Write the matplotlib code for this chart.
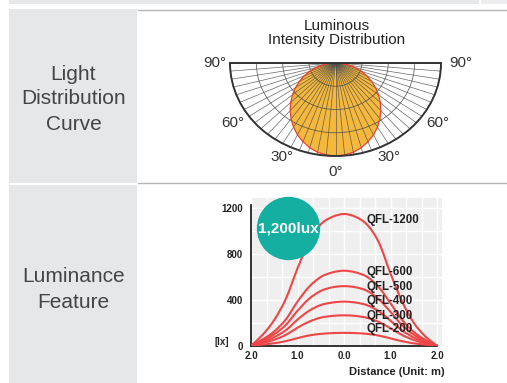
import numpy as np
import matplotlib
matplotlib.use("Agg")
import matplotlib.pyplot as plt
from matplotlib.patches import Rectangle, Polygon, PathPatch, Arc
from matplotlib.path import Path

plt.rcParams['font.family'] = ['Liberation Sans', 'DejaVu Sans']

W, H = 507, 383

# --- light distribution (relative intensity vs angle from nadir, one half) ---
beam_angles = [0, 5, 10, 15, 20, 25, 30, 35, 40, 45, 50, 55, 60, 65, 70, 75, 80, 85, 90]
beam_rel = [1.0, 0.993, 0.975, 0.944, 0.90, 0.853, 0.796, 0.734, 0.669, 0.601,
            0.533, 0.464, 0.395, 0.328, 0.261, 0.195, 0.129, 0.065, 0.0]
grid_rings = [0.25, 0.5, 0.75]
spoke_angles = list(range(-90, 91, 5))
deg_labels = ['90°', '90°', '60°', '60°', '30°', '30°', '0°']

# --- luminance curves ---
distance = [-2.0, -1.75, -1.5, -1.25, -1.0, -0.75, -0.5, -0.25, 0.0,
            0.25, 0.5, 0.75, 1.0, 1.25, 1.5, 1.75, 2.0]
qfl1200 = [0, 95, 225, 410, 675, 910, 1060, 1125, 1150, 1125, 1055, 900, 630, 385, 200, 80, 0]
qfl600 = [0, 55, 125, 230, 385, 515, 600, 640, 655, 640, 600, 510, 370, 225, 120, 50, 0]
qfl500 = [0, 45, 100, 182, 305, 410, 478, 510, 520, 510, 478, 405, 295, 178, 97, 40, 0]
qfl400 = [0, 33, 75, 135, 228, 305, 355, 377, 385, 377, 353, 300, 218, 132, 72, 30, 0]
qfl300 = [0, 23, 52, 95, 157, 210, 245, 260, 265, 260, 243, 207, 152, 93, 50, 21, 0]
qfl200 = [0, 10, 22, 40, 66, 90, 103, 110, 112, 110, 103, 88, 64, 39, 21, 9, 0]
series = [qfl1200, qfl600, qfl500, qfl400, qfl300, qfl200]
series_names = ['QFL-1200', 'QFL-600', 'QFL-500', 'QFL-400', 'QFL-300', 'QFL-200']
name_y = [1099, 647, 516, 393, 262, 143]


def px(x0, y0, x1, y1):
    return [x0 / W, 1 - y1 / H, (x1 - x0) / W, (y1 - y0) / H]


def smooth(xs, ys):
    # Catmull-Rom through the read points, drawn as cubic bezier
    p = np.column_stack([xs, ys]).astype(float)
    verts, codes = [p[0]], [Path.MOVETO]
    for i in range(len(p) - 1):
        p0 = p[i - 1] if i > 0 else p[i]
        p3 = p[i + 2] if i + 2 < len(p) else p[i + 1]
        verts += [p[i] + (p[i + 1] - p0) / 6, p[i + 1] - (p3 - p[i]) / 6, p[i + 1]]
        codes += [Path.CURVE4] * 3
    return Path(verts, codes)


fig = plt.figure(figsize=(W / 100, H / 100), dpi=100)

# background table
bg = fig.add_axes([0, 0, 1, 1])
bg.set_xlim(0, W)
bg.set_ylim(H, 0)
bg.axis('off')
cell = '#E6E7E9'
bg.add_patch(Rectangle((9, 0), 470, 4, color=cell, lw=0))
bg.add_patch(Rectangle((481, 0), 26, 4, color='#EDEDEF', lw=0))
bg.add_patch(Rectangle((9, 9), 128, 174, color=cell, lw=0))
bg.add_patch(Rectangle((9, 185), 128, 198, color=cell, lw=0))
bg.plot([138, 507], [10, 10], color='#B5B5B5', lw=1)
bg.plot([138, 507], [183, 183], color='#B5B5B5', lw=1)
bg.text(73.5, 99, 'Light\nDistribution\nCurve', ha='center', va='center',
        fontsize=15, color='#444444', linespacing=1.4)
bg.text(73.5, 289.5, 'Luminance\nFeature', ha='center', va='center',
        fontsize=15, color='#444444', linespacing=1.4)

# light distribution curve
ax = fig.add_axes(px(230, 63, 441, 156))
ax.set_xlim(-1, 1)
ax.set_ylim(-1, 0)
ax.axis('off')
a = np.radians(np.array(beam_angles))
r = np.array(beam_rel)
xs = np.concatenate([-(r * np.sin(a))[::-1], (r * np.sin(a))[1:]])
ys = np.concatenate([-(r * np.cos(a))[::-1], -(r * np.cos(a))[1:]])
ax.add_patch(Polygon(np.column_stack([xs, ys]), closed=True, fc='#F4B83C', ec='none', zorder=1))
for s in spoke_angles:
    t = np.radians(s)
    ax.plot([0, np.sin(t)], [0, -np.cos(t)], color='#4d4d4d', lw=0.5, alpha=0.85, zorder=2)
for rr in grid_rings:
    ax.add_patch(Arc((0, 0), 2 * rr, 2 * rr, theta1=180, theta2=360,
                     color='#4d4d4d', lw=0.6, alpha=0.85, zorder=2))
ax.add_patch(Polygon(np.column_stack([xs, ys]), closed=True, fc='none',
                     ec='#E8402E', lw=0.9, zorder=3))
ax.add_patch(Arc((0, 0), 2, 2, theta1=180, theta2=360, color='#333333', lw=1.4,
                 zorder=4, clip_on=False))
ax.plot([-1, 1], [0, 0], color='#333333', lw=1.4, zorder=4, clip_on=False)
lab_pos = [(-1.142, 0.0), (1.19, 0.0), (-0.97, -0.645), (0.97, -0.645),
           (-0.507, -1.01), (0.507, -1.01), (0.0, -1.17)]
for lab, (lx, ly) in zip(deg_labels, lab_pos):
    ax.text(lx, ly, lab, ha='center', va='center', fontsize=11, color='#333333')
ax.text(0.01, 0.323, 'Luminous\nIntensity Distribution', ha='center', va='center',
        fontsize=11, color='#222222', linespacing=1.05)

# luminance feature chart
ax3 = fig.add_axes(px(251, 198, 441.7, 345.7))
ax3.set_facecolor('#EFEFEF')
ax3.set_xlim(-2, 2.1)
ax3.set_ylim(0, 1290)
for sp in ['top', 'right']:
    ax3.spines[sp].set_visible(False)
ax3.spines['left'].set_bounds(0, 1230)
ax3.spines['bottom'].set_bounds(-2, 2)
for sp in ['left', 'bottom']:
    ax3.spines[sp].set_linewidth(1.2)
    ax3.spines[sp].set_color('#111111')
ax3.set_xticks([-2, -1, 0, 1, 2])
ax3.set_xticklabels(['2.0', '1.0', '0.0', '1.0', '2.0'])
ax3.set_xticks([-5 / 3, -4 / 3, -2 / 3, -1 / 3, 1 / 3, 2 / 3, 4 / 3, 5 / 3], minor=True)
ax3.set_yticks([0, 400, 800, 1200])
ax3.set_yticks([200, 600, 1000], minor=True)
ax3.tick_params(which='both', length=0)
ax3.tick_params(axis='y', pad=5.5)
ax3.tick_params(axis='x', pad=3.5)
for t in ax3.get_xticklabels() + ax3.get_yticklabels():
    t.set_fontsize(7)
    t.set_fontweight('bold')
    t.set_color('#222222')
ax3.grid(which='both', color='white', lw=1)
ax3.set_axisbelow(True)

for vals in series:
    ax3.add_patch(PathPatch(smooth(distance, vals), fill=False, ec='#EE4646',
                            lw=1.5, zorder=3, capstyle='round'))
for name, ny in zip(series_names, name_y):
    ax3.text(0.49, ny, name, ha='left', va='center', fontsize=8.3,
             fontweight='bold', color='#222222', zorder=4)

ax3.scatter([-1.2], [1026], s=2080, color='#14AFA0', zorder=5, clip_on=False, lw=0)
ax3.text(-1.2, 1026, '1,200lux', ha='center', va='center', fontsize=11,
         fontweight='bold', color='white', zorder=6)
ax3.text(-2.62, 32, '[lx]', ha='center', va='center', fontsize=7,
         fontweight='bold', color='#222222', clip_on=False)
ax3.text(2.17, -230, 'Distance (Unit: m)', ha='right', va='center', fontsize=8,
         fontweight='bold', color='#222222', clip_on=False)

fig.savefig('out.png', dpi=100)
